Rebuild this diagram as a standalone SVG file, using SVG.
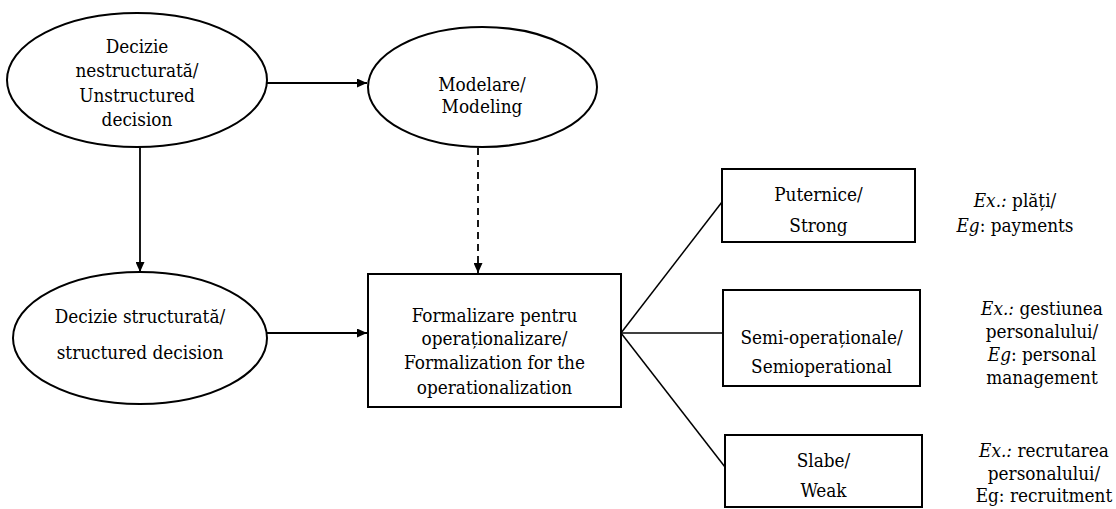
<svg xmlns="http://www.w3.org/2000/svg" width="1116" height="509" viewBox="0 0 1116 509">
<defs>
<style>
.shape{fill:#fff;stroke:#000;stroke-width:2}
.t{font-family:'DejaVu Serif Condensed','DejaVu Serif',serif;font-stretch:condensed;font-size:18.8px;fill:#000;text-anchor:middle}
.c{fill:none;stroke:#000;stroke-width:1.8}
.b{fill:none;stroke:#000;stroke-width:1.5}
.d{fill:none;stroke:#000;stroke-width:1.8;stroke-dasharray:7 5}
</style>
<marker id="ah" markerUnits="userSpaceOnUse" markerWidth="11" markerHeight="9" refX="10" refY="4.5" orient="auto">
<path d="M0,0 L10,4.5 L0,9 z" fill="#000"/>
</marker>
</defs>
<rect width="1116" height="509" fill="#fff"/>
<g id="connectors">
<line class="c" x1="267" y1="83" x2="367" y2="83" marker-end="url(#ah)"/>
<line class="c" x1="140" y1="147" x2="140" y2="272" marker-end="url(#ah)"/>
<line class="d" x1="478" y1="148" x2="478" y2="273" marker-end="url(#ah)"/>
<line class="c" x1="267" y1="333" x2="367" y2="333" marker-end="url(#ah)"/>
<line class="b" x1="621" y1="333" x2="722" y2="202"/>
<line class="b" x1="621" y1="333" x2="724" y2="333"/>
<line class="b" x1="621" y1="333" x2="725" y2="467"/>
</g>
<g id="n-unstructured">
<ellipse class="shape" cx="137" cy="80" rx="130" ry="67"/>
<text class="t" x="137" y="53">Decizie</text>
<text class="t" x="137" y="77">nestructurată/</text>
<text class="t" x="137" y="102">Unstructured</text>
<text class="t" x="137" y="126">decision</text>
</g>
<g id="n-modelare">
<ellipse class="shape" cx="482.5" cy="87" rx="114.5" ry="60"/>
<text class="t" x="482" y="91">Modelare/</text>
<text class="t" x="482" y="113">Modeling</text>
</g>
<g id="n-structured">
<ellipse class="shape" cx="140" cy="338" rx="127" ry="66"/>
<text class="t" x="140" y="323">Decizie structurată/</text>
<text class="t" x="140" y="359">structured decision</text>
</g>
<g id="n-formalizare">
<rect class="shape" x="368" y="274" width="253" height="133"/>
<text class="t" x="494.5" y="322">Formalizare pentru</text>
<text class="t" x="494.5" y="345">operaționalizare/</text>
<text class="t" x="494.5" y="369">Formalization for the</text>
<text class="t" x="494.5" y="394">operationalization</text>
</g>
<g id="n-puternice">
<rect class="shape" x="722" y="169" width="193" height="73"/>
<text class="t" x="818.5" y="201">Puternice/</text>
<text class="t" x="818.5" y="232">Strong</text>
</g>
<g id="n-semi">
<rect class="shape" x="723" y="290" width="197" height="96"/>
<text class="t" x="821.5" y="344">Semi-operaționale/</text>
<text class="t" x="821.5" y="373">Semioperational</text>
</g>
<g id="n-slabe">
<rect class="shape" x="725" y="435" width="197" height="72"/>
<text class="t" x="823.5" y="467">Slabe/</text>
<text class="t" x="823.5" y="497">Weak</text>
</g>
<g id="ex-puternice">
<text class="t" x="1015" y="207"><tspan font-style="italic">Ex.:</tspan> plăți/</text>
<text class="t" x="1015" y="232"><tspan font-style="italic">Eg</tspan>: payments</text>
</g>
<g id="ex-semi">
<text class="t" x="1042" y="315"><tspan font-style="italic">Ex.:</tspan> gestiunea</text>
<text class="t" x="1042" y="338">personalului/</text>
<text class="t" x="1042" y="361"><tspan font-style="italic">Eg</tspan>: personal</text>
<text class="t" x="1042" y="384">management</text>
</g>
<g id="ex-slabe">
<text class="t" x="1044" y="457"><tspan font-style="italic">Ex.:</tspan> recrutarea</text>
<text class="t" x="1044" y="480">personalului/</text>
<text class="t" x="1044" y="502">Eg: recruitment</text>
</g>
</svg>
